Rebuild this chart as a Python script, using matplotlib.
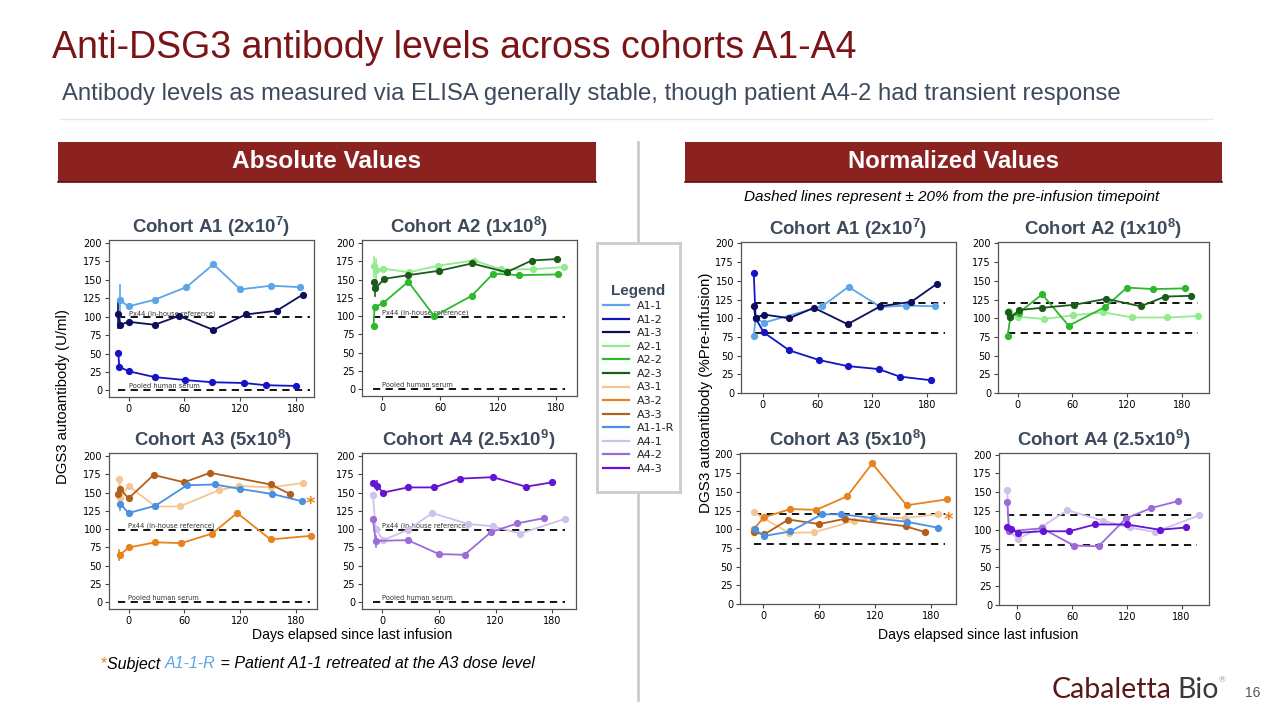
import matplotlib
matplotlib.use("Agg")
import matplotlib.pyplot as plt
from matplotlib.lines import Line2D
from matplotlib.patches import Rectangle

plt.rcParams["mathtext.fontset"] = "custom"
plt.rcParams["mathtext.rm"] = "Liberation Sans"
plt.rcParams["mathtext.bf"] = "Liberation Sans:bold"

# ---------------- data ----------------
series_names = ["A1-1", "A1-2", "A1-3", "A2-1", "A2-2", "A2-3", "A3-1", "A3-2",
                "A3-3", "A1-1-R", "A4-1", "A4-2", "A4-3"]
series_colors = ["#5DA5E8", "#1414C4", "#0E0E5C", "#92EC8E", "#2EB82E", "#1B5C1B",
                 "#F5C593", "#E8821E", "#B0601A", "#4A90E2", "#CFC0EC", "#9B6BDB", "#6414D2"]

x_ticks = [0, 60, 120, 180]
y_ticks = [0, 25, 50, 75, 100, 125, 150, 175, 200]

# Absolute values (U/ml)
abs_A1_1_x = [-9, 0, 28, 62, 91, 120, 153, 184]
abs_A1_1_y = [122, 114, 123, 140, 171, 137, 142, 140]
abs_A1_2_x = [-11, -10, 0, 28, 61, 90, 124, 147, 180]
abs_A1_2_y = [51, 32, 26, 18, 14, 11, 10, 7, 6]
abs_A1_3_x = [-11, -9, 0, 28, 54, 91, 126, 159, 187]
abs_A1_3_y = [104, 89, 93, 89, 101, 82, 103, 108, 130]

abs_A2_1_x = [-9, -6, 1, 28, 58, 95, 123, 156, 188]
abs_A2_1_y = [168, 163, 165, 160, 169, 176, 164, 164, 167]
abs_A2_2_x = [-9, -8, 1, 27, 54, 93, 115, 142, 182]
abs_A2_2_y = [86, 112, 118, 147, 100, 128, 158, 156, 157]
abs_A2_3_x = [-9, -7, 2, 27, 59, 93, 129, 155, 181]
abs_A2_3_y = [147, 138, 151, 156, 162, 172, 160, 176, 178]

abs_A3_1_x = [-10, -9, 0, 29, 55, 97, 119, 153, 188]
abs_A3_1_y = [169, 142, 159, 131, 131, 153, 159, 157, 163]
abs_A3_2_x = [-9, 0, 29, 57, 90, 117, 153, 197]
abs_A3_2_y = [65, 75, 82, 81, 94, 122, 86, 91]
abs_A3_3_x = [-11, -9, 0, 27, 60, 88, 153, 174]
abs_A3_3_y = [148, 155, 142, 174, 164, 177, 161, 148]
abs_A11R_x = [-9, 0, 29, 63, 93, 120, 155, 187]
abs_A11R_y = [135, 122, 132, 160, 161, 155, 148, 138]

abs_A4_1_x = [-10, -7, 1, 27, 53, 91, 117, 146, 193]
abs_A4_1_y = [147, 100, 85, 99, 122, 107, 104, 94, 114]
abs_A4_2_x = [-10, -7, 27, 60, 87, 115, 143, 171]
abs_A4_2_y = [114, 84, 85, 66, 65, 96, 108, 115]
abs_A4_3_x = [-10, -6, 1, 27, 55, 82, 117, 152, 180]
abs_A4_3_y = [163, 159, 150, 157, 157, 169, 171, 158, 164]

# pre-infusion spread bars: (series, day, low, high)
abs_A1_bars = [("A1-1", -9, 90, 143), ("A1-3", -11, 84, 118)]
abs_A2_bars = [("A2-1", -9, 153, 181), ("A2-1", -6, 150, 178), ("A2-3", -7, 128, 146)]
abs_A3_bars = [("A3-1", -9, 140, 170), ("A3-2", -10, 58, 72), ("A1-1-R", -9, 126, 140)]
abs_A4_bars = [("A4-3", -6, 154, 166), ("A4-2", -7, 76, 90)]

# Normalized values (% pre-infusion)
nrm_A1_1_x = [-10, -8, 1, 65, 94, 129, 157, 189]
nrm_A1_1_y = [76, 100, 94, 116, 142, 115, 117, 116]
nrm_A1_2_x = [-10, -8, 1, 29, 62, 93, 127, 150, 185]
nrm_A1_2_y = [161, 100, 81, 57, 44, 36, 32, 22, 17]
nrm_A1_3_x = [-10, -8, 1, 29, 56, 93, 129, 163, 191]
nrm_A1_3_y = [117, 100, 105, 100, 114, 92, 116, 122, 146]

nrm_A2_1_x = [-9, 0, 29, 61, 94, 126, 164, 198]
nrm_A2_1_y = [110, 102, 99, 104, 108, 101, 101, 103]
nrm_A2_2_x = [-11, -8, 1, 27, 56, 96, 120, 149, 184]
nrm_A2_2_y = [76, 101, 107, 132, 90, 115, 141, 139, 140]
nrm_A2_3_x = [-11, -8, 2, 27, 62, 97, 135, 162, 190]
nrm_A2_3_y = [108, 101, 111, 114, 118, 126, 116, 129, 130]

nrm_A3_1_x = [-10, 0, 28, 55, 97, 120, 152, 188]
nrm_A3_1_y = [123, 115, 95, 96, 111, 116, 115, 120]
nrm_A3_2_x = [-10, 1, 29, 57, 90, 117, 154, 197]
nrm_A3_2_y = [101, 116, 127, 126, 144, 188, 132, 140]
nrm_A3_3_x = [-10, 1, 27, 60, 88, 153, 174]
nrm_A3_3_y = [96, 93, 113, 107, 114, 104, 96]
nrm_A11R_x = [-9, 1, 29, 63, 83, 118, 154, 188]
nrm_A11R_y = [100, 91, 97, 120, 120, 115, 110, 102]

nrm_A4_1_x = [-11, -9, 1, 27, 55, 94, 123, 151, 199]
nrm_A4_1_y = [153, 98, 88, 104, 126, 112, 103, 97, 119]
nrm_A4_2_x = [-11, -9, 27, 62, 89, 119, 147, 176]
nrm_A4_2_y = [137, 98, 102, 79, 78, 115, 129, 138]
nrm_A4_3_x = [-11, -7, 1, 28, 57, 85, 120, 156, 185]
nrm_A4_3_y = [103, 101, 96, 98, 98, 107, 107, 100, 103]

# ---------------- figure ----------------
W, H = 1280, 720
fig = plt.figure(figsize=(12.8, 7.2), dpi=100)
fig.patch.set_facecolor("white")
COL = dict(zip(series_names, series_colors))
SLATE = "#3D4A5C"
DARKRED = "#8B2220"


def box(l, t, r, b):
    return [l / W, 1 - b / H, (r - l) / W, (b - t) / H]


def fx(x):
    return x / W


def fy(y):
    return 1 - y / H


def panel(pos, series, xlim, ylim, title, refs, ref_span, bars=(), labels=True, star=None):
    ax = fig.add_axes(box(*pos))
    for y0 in refs:
        ax.plot(ref_span, [y0, y0], ls="--", color="black", lw=1.3, dashes=(4, 3), zorder=1)
    if labels:
        ax.text(0, refs[0] + 3, "Px44 (in-house reference)", fontsize=4.8, color="#333333")
        ax.text(0, refs[1] + 3, "Pooled human serum", fontsize=4.8, color="#333333")
    for name, xx, lo, hi in bars:
        ax.plot([xx, xx], [lo, hi], color=COL[name], lw=1.2, zorder=2)
    for name, xs, ys in series:
        ax.plot(xs, ys, color=COL[name], lw=1.3, marker="o", ms=4.2, mec=COL[name], zorder=3)
    if star is not None:
        ax.text(star[0], star[1], "*", color="#E8821E", fontsize=13, ha="center", va="center",
                fontweight="bold", clip_on=False)
    ax.set_xlim(*xlim)
    ax.set_ylim(*ylim)
    ax.set_xticks(x_ticks)
    ax.set_yticks(y_ticks)
    ax.tick_params(labelsize=7, length=3, width=0.8, color="#444444", pad=2)
    for s in ax.spines.values():
        s.set_color("#555555")
        s.set_linewidth(0.9)
    ax.set_title(title, fontsize=13.4, fontweight="bold", color=SLATE, family="Liberation Sans", pad=5)
    return ax


# absolute panels
panel((109, 240, 314, 397),
      [("A1-1", abs_A1_1_x, abs_A1_1_y), ("A1-2", abs_A1_2_x, abs_A1_2_y), ("A1-3", abs_A1_3_x, abs_A1_3_y)],
      (-21, 199), (-9, 204), r"Cohort A1 (2x10$\mathbf{^7}$)", [99, 0], [-11, 195], abs_A1_bars)
panel((362, 240, 577, 396),
      [("A2-1", abs_A2_1_x, abs_A2_1_y), ("A2-2", abs_A2_2_x, abs_A2_2_y), ("A2-3", abs_A2_3_x, abs_A2_3_y)],
      (-21, 202), (-9, 204), r"Cohort A2 (1x10$\mathbf{^8}$)", [99, 0], [-10, 190], abs_A2_bars)
panel((109, 453, 317, 609),
      [("A3-1", abs_A3_1_x, abs_A3_1_y), ("A3-2", abs_A3_2_x, abs_A3_2_y), ("A3-3", abs_A3_3_x, abs_A3_3_y),
       ("A1-1-R", abs_A11R_x, abs_A11R_y)],
      (-21, 203), (-9, 204), r"Cohort A3 (5x10$\mathbf{^8}$)", [99, 0], [-11, 195], abs_A3_bars,
      star=(196, 135))
panel((362, 453, 576, 609),
      [("A4-1", abs_A4_1_x, abs_A4_1_y), ("A4-2", abs_A4_2_x, abs_A4_2_y), ("A4-3", abs_A4_3_x, abs_A4_3_y)],
      (-21.5, 205), (-9, 204), r"Cohort A4 (2.5x10$\mathbf{^9}$)", [99, 0], [-10, 193], abs_A4_bars)

# normalized panels
panel((741, 242, 956, 393),
      [("A1-1", nrm_A1_1_x, nrm_A1_1_y), ("A1-2", nrm_A1_2_x, nrm_A1_2_y), ("A1-3", nrm_A1_3_x, nrm_A1_3_y)],
      (-24, 212), (0, 202), r"Cohort A1 (2x10$\mathbf{^7}$)", [120, 80], [-10, 200], labels=False)
panel((998, 242, 1209, 393),
      [("A2-1", nrm_A2_1_x, nrm_A2_1_y), ("A2-2", nrm_A2_2_x, nrm_A2_2_y), ("A2-3", nrm_A2_3_x, nrm_A2_3_y)],
      (-21.5, 210), (0, 202), r"Cohort A2 (1x10$\mathbf{^8}$)", [120, 80], [-11, 198], labels=False)
panel((740, 453, 956, 604),
      [("A3-1", nrm_A3_1_x, nrm_A3_1_y), ("A3-2", nrm_A3_2_x, nrm_A3_2_y), ("A3-3", nrm_A3_3_x, nrm_A3_3_y),
       ("A1-1-R", nrm_A11R_x, nrm_A11R_y)],
      (-25, 207), (0, 202), r"Cohort A3 (5x10$\mathbf{^8}$)", [120, 80], [-10, 195], labels=False,
      star=(199, 112))
panel((999, 453, 1209, 605),
      [("A4-1", nrm_A4_1_x, nrm_A4_1_y), ("A4-2", nrm_A4_2_x, nrm_A4_2_y), ("A4-3", nrm_A4_3_x, nrm_A4_3_y)],
      (-20, 210), (0, 202), r"Cohort A4 (2.5x10$\mathbf{^9}$)", [120, 80], [-11, 197], labels=False)

# ---------------- slide decorations ----------------
fig.text(fx(52), fy(48), "Anti-DSG3 antibody levels across cohorts A1-A4", fontsize=27,
         color="#7B1416", family="Liberation Sans", va="center", ha="left")
fig.text(fx(62), fy(94), "Antibody levels as measured via ELISA generally stable, though patient A4-2 had transient response",
         fontsize=17.2, color=SLATE, family="Liberation Sans", va="center", ha="left")
fig.add_artist(Line2D([fx(60), fx(1212)], [fy(119), fy(119)], color="#E6E6E6", lw=1))

for (l, r, txt, fs) in [(58, 596, "Absolute Values", 17.6), (685, 1222, "Normalized Values", 17.2)]:
    fig.add_artist(Rectangle((fx(l), fy(182)), fx(r - l), (182 - 142) / H, facecolor=DARKRED,
                             edgecolor="none", transform=fig.transFigure))
    fig.add_artist(Line2D([fx(l), fx(r)], [fy(181.5), fy(181.5)], color="#5E1010", lw=1.2))
    fig.text(fx((l + r) / 2), fy(162), txt, fontsize=fs, fontweight="bold", color="white",
             family="Liberation Sans", ha="center", va="center")

# divider
fig.add_artist(Line2D([fx(638), fx(638)], [fy(142), fy(243)], color="#CCCCCC", lw=2))
fig.add_artist(Line2D([fx(638), fx(638)], [fy(492), fy(700)], color="#CCCCCC", lw=2))

fig.text(fx(952), fy(197), "Dashed lines represent \u00b1 20% from the pre-infusion timepoint",
         fontsize=11, style="italic", family="Liberation Sans", ha="center", va="center")

# legend box
axl = fig.add_axes(box(597, 243, 680, 492))
axl.set_xticks([])
axl.set_yticks([])
for s in axl.spines.values():
    s.set_color("#CCCCCC")
    s.set_linewidth(2)
handles = [Line2D([], [], color=c, lw=1.6) for c in series_colors]
leg = axl.legend(handles, series_names, loc="center", bbox_to_anchor=(0.5, 0.455), frameon=False,
                 fontsize=8, title="Legend", handlelength=2.4, labelspacing=0.32, handletextpad=0.7,
                 borderaxespad=0.0, borderpad=0.0)
leg.get_title().set_fontweight("bold")
leg.get_title().set_fontsize(11)
leg.get_title().set_color(SLATE)
leg.get_title().set_family("Liberation Sans")
for t in leg.get_texts():
    t.set_color("#222222")

# axis labels
fig.text(fx(63), fy(397), "DGS3 autoantibody (U/ml)", rotation=90, fontsize=10.7,
         family="Liberation Sans", ha="center", va="center")
fig.text(fx(706), fy(393), "DGS3 autoantibody (%Pre-infusion)", rotation=90, fontsize=10.9,
         family="Liberation Sans", ha="center", va="center")
fig.text(fx(352), fy(635), "Days elapsed since last infusion", fontsize=10.1,
         family="Liberation Sans", ha="center", va="center")
fig.text(fx(978), fy(635), "Days elapsed since last infusion", fontsize=10.1,
         family="Liberation Sans", ha="center", va="center")

# footnote
fig.canvas.draw()
r = fig.canvas.get_renderer()
t1 = fig.text(fx(101), fy(664), "*", fontsize=11.5, color="#E8821E", family="Liberation Sans", va="center")
bb = t1.get_window_extent(r)
t2 = fig.text(bb.x1 / W, fy(664), "Subject ", fontsize=11.5, style="italic", family="Liberation Sans", va="center")
bb = t2.get_window_extent(r)
t3 = fig.text(bb.x1 / W, fy(664), "A1-1-R", fontsize=11.5, style="italic", color="#5DA5E8",
              family="Liberation Sans", va="center")
bb = t3.get_window_extent(r)
fig.text(bb.x1 / W, fy(664), " = Patient A1-1 retreated at the A3 dose level", fontsize=11.5,
         style="italic", family="Liberation Sans", va="center")

# logo + page number
lg = fig.text(fx(1052), fy(690), "Cabaletta", fontsize=20.5, color="#5A1717", family="Lato",
              fontweight="normal", va="center")
bb = lg.get_window_extent(r)
lg2 = fig.text(bb.x1 / W + 0.004, fy(690), "Bio", fontsize=20.5, color="#3A3A3A", family="Lato",
               fontweight="normal", va="center")
bb = lg2.get_window_extent(r)
fig.text(bb.x1 / W, fy(680), "\u00ae", fontsize=6, color="#999999", family="Lato", va="center")
fig.text(fx(1253), fy(693), "16", fontsize=10, color="#555555", family="Liberation Sans",
         ha="center", va="center")

fig.savefig("out.png", dpi=100)
